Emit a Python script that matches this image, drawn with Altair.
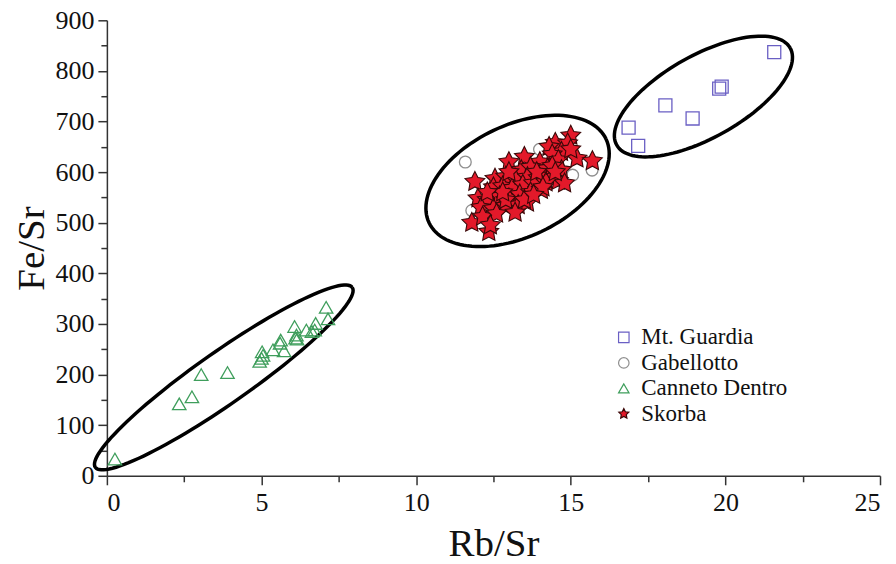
import math
import altair as alt
import pandas as pd

# ---------------- data ----------------
groups = ["Mt. Guardia", "Gabellotto", "Canneto Dentro", "Skorba"]

mg_x = [21.58, 19.80, 19.88, 18.06, 18.94, 16.87, 17.18]
mg_y = [837, 765, 769, 732, 706, 688, 652]

gab_x = [11.59, 13.99, 15.69, 11.80, 12.43, 15.06, 12.90, 13.30, 14.20, 13.60, 14.50, 12.20]
gab_y = [620, 645, 604, 524, 560, 594, 540, 580, 600, 565, 620, 512]

cd_x = [0.26, 2.34, 2.75, 3.05, 3.90, 4.94, 5.00, 5.02, 5.05, 5.37, 5.62, 5.60, 5.73,
        6.07, 6.13, 6.10, 6.15, 6.45, 6.63, 6.75, 6.72, 7.09, 7.15]
cd_y = [33, 142, 156, 200, 204, 226, 232, 245, 238, 249, 268, 262, 247,
        295, 278, 272, 270, 288, 285, 301, 288, 333, 310]

sk_x = [15.0, 14.5, 14.9, 14.3, 14.7, 14.4, 15.2, 15.7, 14.6, 13.5, 13.0, 14.0, 14.25,
        14.7, 13.4, 13.7, 11.9, 12.55, 12.9, 13.2, 13.6, 13.95, 14.3, 14.6, 14.8, 12.5,
        12.8, 13.1, 13.45, 13.8, 14.2, 12.0, 12.3, 12.7, 13.0, 13.35, 13.7, 14.05, 12.1,
        12.5, 12.9, 13.3, 13.6, 11.8, 12.15, 12.6, 12.35, 12.4, 12.9, 13.5, 13.2, 12.8,
        13.9, 14.4, 15.0, 14.1, 13.0, 12.3, 13.8, 14.5]
sk_y = [672, 658, 657, 650, 640, 635, 627, 622, 624, 630, 620, 620, 607,
        604, 604, 610, 581, 587, 591, 587, 590, 588, 592, 583, 578, 570,
        572, 568, 575, 578, 580, 548, 545, 552, 548, 556, 560, 565, 530,
        528, 533, 535, 540, 500, 512, 518, 482, 495, 545, 545, 520, 560,
        600, 612, 645, 570, 600, 560, 555, 600]

x_major = [0, 5, 10, 15, 20, 25]
x_minor = [2.5, 7.5, 12.5, 17.5, 22.5]
y_major = [0, 100, 200, 300, 400, 500, 600, 700, 800, 900]
y_minor = [50, 150, 250, 350, 450, 550, 650, 750, 850]

# ellipse annotations: centre (data units), semi-axes (px) and tilt (deg)
ell_cx = [3.78, 13.28, 19.29]
ell_cy = [194.4, 582.6, 749.4]
ell_a = [157, 98, 99.5]
ell_b = [26, 56, 41.3]
ell_ang = [35.0, 25.3, 29.2]

# ---------------- layout ----------------
W, H = 774, 456
XMAX, YMAX = 25, 900
FONT = "Liberation Serif"
LEGEND_FONT = "Liberation Serif, Times New Roman, serif"
STAR = ("M0,-1L0.294,-0.405L0.951,-0.309L0.476,0.155L0.588,0.809L0,0.5"
        "L-0.588,0.809L-0.476,0.155L-0.951,-0.309L-0.294,-0.405Z")

rows = []
for g, xs, ys in [(groups[0], mg_x, mg_y), (groups[1], gab_x, gab_y),
                  (groups[2], cd_x, cd_y), (groups[3], sk_x, sk_y)]:
    for x, y in zip(xs, ys):
        rows.append({"group": g, "x": x, "y": y})
pts = pd.DataFrame(rows)

sx, sy = W / XMAX, H / YMAX
erows = []
for k in range(3):
    th = math.radians(ell_ang[k])
    n = 120
    for i in range(n + 1):
        t = 2 * math.pi * i / n
        dx = ell_a[k] * math.cos(t) * math.cos(th) - ell_b[k] * math.sin(t) * math.sin(th)
        dy = ell_a[k] * math.cos(t) * math.sin(th) + ell_b[k] * math.sin(t) * math.cos(th)
        erows.append({"e": k, "i": i, "x": ell_cx[k] + dx / sx, "y": ell_cy[k] + dy / sy})
ell = pd.DataFrame(erows)

xscale = alt.Scale(domain=[0, XMAX], nice=False, zero=False)
yscale = alt.Scale(domain=[0, YMAX], nice=False, zero=False)

xaxis_minor = alt.Axis(orient="bottom", values=x_minor, labels=False, title=None,
                       tickSize=6, domain=False, grid=False)
yaxis_minor = alt.Axis(orient="left", values=y_minor, labels=False, title=None,
                       tickSize=6, domain=False, grid=False)
xaxis = alt.Axis(orient="bottom", title="Rb/Sr", values=x_major, tickSize=9,
                 labelFontSize=26, titleFontSize=39, labelPadding=5, titlePadding=9,
                 grid=False)
yaxis = alt.Axis(orient="left", title="Fe/Sr", values=y_major, tickSize=9,
                 labelFontSize=26, titleFontSize=39, labelPadding=4, titlePadding=3,
                 grid=False)

ellipses = alt.Chart(ell).mark_line(color="black", strokeWidth=3.5).encode(
    x=alt.X("x:Q", scale=xscale, axis=xaxis_minor),
    y=alt.Y("y:Q", scale=yscale, axis=yaxis_minor),
    detail="e:N",
    order="i:Q",
)

shape_scale = alt.Scale(domain=groups, range=["square", "circle", "triangle-up", STAR])
fill_scale = alt.Scale(domain=groups,
                       range=["transparent", "transparent", "transparent", "#e3192a"])
stroke_scale = alt.Scale(domain=groups,
                         range=["#6a5fc4", "#8f8f8f", "#3f9e5c", "#3a0808"])
legend = alt.Legend(title=None, orient="none", legendX=506, legendY=306,
                    labelFont=LEGEND_FONT, labelFontSize=23, labelColor="#111",
                    symbolSize=110, symbolStrokeWidth=1.2, rowPadding=1.5, labelOffset=6)

base = alt.Chart(pts).encode(
    x=alt.X("x:Q", scale=xscale, axis=xaxis),
    y=alt.Y("y:Q", scale=yscale, axis=yaxis),
    shape=alt.Shape("group:N", scale=shape_scale, legend=legend),
    fill=alt.Fill("group:N", scale=fill_scale, legend=legend),
    stroke=alt.Stroke("group:N", scale=stroke_scale, legend=legend),
)

sizes = [170, 140, 180, 430]
point_layers = []
for g, s in zip(groups, sizes):
    point_layers.append(
        base.transform_filter(alt.datum.group == g)
        .mark_point(filled=False, size=s, strokeWidth=1.3 if g != "Skorba" else 1.1,
                    opacity=1)
    )
points = alt.layer(*point_layers)

chart = alt.layer(ellipses, points).resolve_axis(
    x="independent", y="independent"
).properties(
    width=W, height=H,
    autosize=alt.AutoSizeParams(type="none"),
    padding={"left": 99, "top": 12, "right": 8, "bottom": 88},
).configure(
    font=FONT,
    style={"guide-label": {"font": FONT}, "guide-title": {"font": FONT}},
).configure_view(stroke=None).configure_axis(
    labelFont=FONT, titleFont=FONT, labelColor="#111", titleColor="#111",
    titleFontWeight="normal", domainColor="#333", tickColor="#333",
    domainWidth=1.5, tickWidth=1.5,
).configure_legend(
    labelFont=LEGEND_FONT, labelFontSize=23, labelColor="#111",
)

chart.save("out.html", embed_options={"renderer": "svg", "actions": False})
